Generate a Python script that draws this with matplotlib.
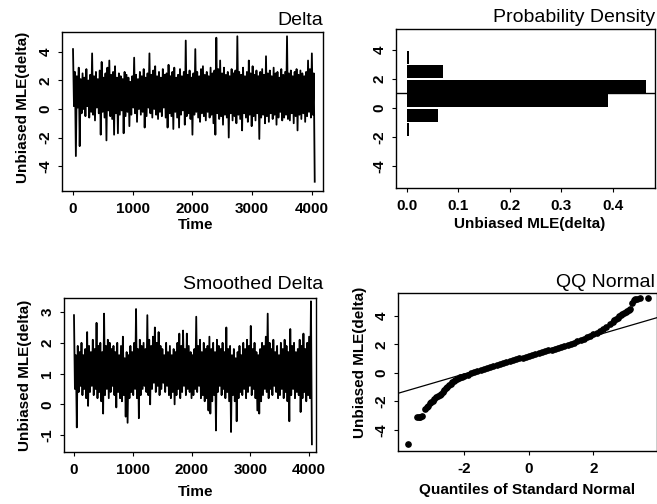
import matplotlib.pyplot as plt
import numpy as np

plt.rcParams['font.family'] = ['Liberation Sans', 'DejaVu Sans']
plt.rcParams['axes.unicode_minus'] = False

# raw delta: per-window high / low excursion
window = 32
delta_hi = [4.2, 2.6, 2.3, 2.9, 2.1, 2.5, 2.2, 2.8, 2.0, 2.4,
            3.9, 2.3, 2.6, 2.1, 2.7, 3.3, 2.2, 2.5, 2.9, 3.4,
            2.4, 2.6, 3.0, 2.2, 2.5, 2.3, 2.1, 2.6, 2.4, 2.2,
            1.9, 2.3, 3.6, 2.4, 2.1, 2.6, 2.3, 2.8, 2.2, 2.5,
            3.9, 2.4, 2.7, 3.0, 2.3, 2.6, 2.2, 2.8, 2.4, 2.5,
            3.1, 2.3, 2.6, 2.9, 2.2, 2.4, 2.8, 2.3, 2.6, 4.8,
            2.4, 2.7, 2.2, 2.5, 4.2, 2.6, 2.3, 2.8, 3.0, 2.4,
            2.6, 2.3, 2.9, 2.5, 2.7, 5.0, 2.8, 3.4, 2.5, 2.9,
            2.4, 2.6, 2.3, 2.8, 2.5, 2.7, 5.1, 2.6, 2.4, 2.9,
            2.3, 2.6, 3.4, 2.5, 3.0, 2.4, 2.7, 2.3, 2.6, 2.8,
            2.4, 3.7, 2.5, 2.7, 2.3, 2.9, 2.5, 2.6, 2.2, 2.8,
            2.4, 2.6, 5.1, 2.5, 2.7, 2.3, 2.6, 2.8, 2.4, 2.7,
            2.5, 2.3, 2.6, 3.4, 2.8, 3.9, 2.5]
delta_lo = [0.2, -3.3, 0.1, -2.6, -0.3, 0.0, -0.5, 0.2, -0.6, -0.2,
            -0.4, -0.8, 0.1, -0.3, -1.8, -0.2, -0.6, -2.2, -0.1, -0.5,
            -0.7, -1.8, -0.3, -1.7, -0.4, -0.1, -1.7, -0.5, -0.2, -1.2,
            -0.4, 0.1, -0.3, -0.9, 0.0, -0.4, -0.2, -1.3, -0.5, 0.1,
            -0.3, -0.6, 0.0, -0.4, -0.7, -0.2, -0.5, 0.1, -0.6, -1.3,
            -0.3, -0.5, -1.4, -0.2, -0.6, -1.3, -0.4, -0.1, -1.1, -0.5,
            -0.3, -0.7, -1.8, -0.4, -0.2, -0.6, -0.9, -0.3, -0.5, -0.8,
            -0.2, -0.6, -0.4, -1.0, -1.8, -0.3, -0.7, -0.5, -1.1, -0.4,
            -0.6, -2.0, -0.3, -0.8, -0.5, -1.0, -0.4, -0.7, -1.5, -0.3,
            -0.6, -0.9, -0.4, -1.2, -0.5, -0.8, -0.3, -2.1, -0.6, -0.4,
            -1.0, -0.5, -0.9, -0.3, -0.7, -0.4, -1.1, -0.6, -0.2, -0.8,
            -0.6, -0.4, -0.7, -0.8, -0.3, -1.0, -0.5, -1.5, -0.4, -0.7,
            -0.3, -0.9, -0.5, -0.2, -0.6, -0.4, -5.1]

# smoothed delta, same windows, bottom-left panel
smooth_hi = [2.9, 1.6, 1.9, 1.7, 2.0, 1.6, 1.8, 2.35, 1.9, 1.7,
             2.1, 1.8, 2.65, 1.9, 2.0, 1.7, 2.95, 1.9, 2.1, 2.0,
             1.8, 1.9, 1.7, 2.0, 1.6, 1.9, 2.2, 1.5, 1.7, 1.6,
             1.9, 1.7, 2.0, 3.1, 1.8, 2.1, 1.9, 2.0, 1.8, 2.9,
             2.1, 1.9, 2.2, 2.5, 2.0, 2.35, 1.9, 1.8, 1.6, 2.0,
             1.7, 1.9, 1.6, 1.8, 1.7, 2.0, 2.3, 1.9, 2.4, 1.8,
             2.3, 1.9, 1.7, 1.6, 1.8, 2.85, 1.9, 2.1, 1.7, 2.0,
             1.8, 1.9, 2.2, 1.8, 2.0, 1.7, 2.1, 1.9, 1.8, 2.0,
             1.7, 2.5, 1.8, 1.9, 1.6, 1.8, 1.5, 1.7, 1.9, 1.6,
             2.0, 1.8, 2.1, 1.9, 2.55, 1.8, 2.0, 1.7, 1.6, 1.8,
             2.0, 1.9, 2.2, 2.95, 2.0, 1.8, 2.1, 1.7, 1.9, 1.6,
             2.0, 1.8, 2.1, 1.9, 1.7, 2.45, 1.9, 2.0, 1.7, 1.8,
             2.1, 1.9, 2.3, 1.8, 2.0, 2.2, 3.35]
smooth_lo = [0.5, -0.75, 0.4, 0.6, 0.3, 0.5, 0.2, -0.05, 0.4, 0.6,
             0.3, 0.5, 0.2, 0.4, 0.1, -0.3, 0.3, 0.5, 0.2, 0.4,
             0.6, 0.3, -0.1, 0.4, 0.2, 0.1, 0.3, -0.4, -0.6, 0.2,
             0.4, 0.3, 0.5, 0.2, -0.45, 0.3, 0.5, 0.6, 0.4, 0.3,
             0.0, 0.5, 0.7, 0.4, 0.6, 0.3, 0.5, 0.7, 0.4, 0.6,
             0.3, 0.2, 0.4, 0.0, 0.3, 0.5, 0.2, 0.4, 0.6, 0.3,
             0.5, 0.4, 0.2, 0.3, 0.5, 0.4, 0.6, 0.2, 0.3, 0.1,
             0.2, -0.2, -0.3, 0.1, 0.3, -0.85, 0.4, 0.6, 0.3, 0.5,
             0.2, 0.4, 0.1, -0.9, 0.3, 0.1, -0.55, 0.2, 0.4, 0.3,
             0.5, 0.2, 0.4, 0.6, 0.3, 0.5, 0.2, -0.2, -0.3, 0.1,
             0.3, 0.5, 0.4, 0.2, 0.5, 0.3, 0.6, 0.4, 0.2, 0.3,
             0.5, 0.2, 0.4, 0.1, -0.55, 0.3, 0.5, 0.2, 0.4, 0.3,
             -0.25, 0.2, 0.4, 0.1, 0.3, 0.2, -1.3]

# histogram of delta (horizontal bars)
hist_edges = [-2, -1, 0, 1, 2, 3, 4]
hist_density = [0.004, 0.06, 0.39, 0.465, 0.07, 0.004]
delta_mean = 1.0

# QQ plot points
qq_theory = [-3.75, -3.47, -3.42, -3.37, -3.31, -3.22, -3.17, -3.13, -3.08, -3.03,
             -2.98, -2.93, -2.88, -2.82, -2.77, -2.72, -2.67, -2.62, -2.57, -2.53,
             -2.48, -2.43, -2.38, -2.33, -2.28, -2.23, -2.18, -2.13, -2.08,
             -2.0, -1.9, -1.8, -1.7, -1.6, -1.5, -1.4, -1.3, -1.2, -1.1,
             -1.0, -0.9, -0.8, -0.7, -0.6, -0.5, -0.4, -0.3, -0.2, -0.1,
             0.0, 0.1, 0.2, 0.3, 0.4, 0.5, 0.6, 0.7, 0.8, 0.9,
             1.0, 1.1, 1.2, 1.3, 1.4, 1.5, 1.6, 1.7, 1.8,
             1.9, 2.0, 2.1, 2.2, 2.3, 2.4, 2.5, 2.6, 2.65, 2.7,
             2.75, 2.8, 2.85, 2.9, 2.95, 3.0, 3.05, 3.1, 3.14, 3.19,
             3.25, 3.30, 3.36, 3.44, 3.69]
qq_sample = [-4.95, -3.10, -3.08, -3.07, -3.03, -2.50, -2.42, -2.35, -2.10, -2.02,
             -1.95, -1.85, -1.72, -1.60, -1.52, -1.45, -1.35, -1.22, -1.08, -1.00,
             -0.88, -0.75, -0.66, -0.58, -0.50, -0.44, -0.38, -0.32, -0.26,
             -0.20, -0.12, -0.04, 0.05, 0.13, 0.21, 0.29, 0.36, 0.43, 0.50,
             0.57, 0.64, 0.70, 0.76, 0.83, 0.89, 0.95, 1.01, 1.07, 1.13,
             1.19, 1.25, 1.31, 1.38, 1.44, 1.50, 1.57, 1.63, 1.70, 1.77,
             1.84, 1.91, 1.98, 2.05, 2.13, 2.21, 2.30, 2.40, 2.50,
             2.60, 2.71, 2.83, 2.96, 3.10, 3.25, 3.42, 3.58, 3.68, 3.78,
             3.88, 3.98, 4.08, 4.15, 4.22, 4.28, 4.35, 4.42, 4.50, 4.92,
             5.10, 5.18, 5.20, 5.22, 5.22]
qq_intercept = 1.25
qq_slope = 0.66


def series(hi, lo):
    n = len(hi)
    t = np.empty(2 * n)
    y = np.empty(2 * n)
    t[0::2] = np.arange(n) * window
    t[1::2] = np.arange(n) * window + window / 2
    y[0::2] = hi
    y[1::2] = lo
    return t, y


def style(ax, xticks, yticks, xlabels=None):
    ax.set_xticks(xticks)
    if xlabels is not None:
        ax.set_xticklabels(xlabels)
    ax.set_yticks(yticks)
    ax.tick_params(direction='out', length=3, width=0.8, labelsize=11)
    ax.tick_params(axis='x', pad=5)
    ax.tick_params(axis='y', pad=4, labelrotation=90)
    for lab in ax.get_yticklabels():
        lab.set_va('center')
    for lab in ax.get_xticklabels() + ax.get_yticklabels():
        lab.set_fontweight('bold')
    for s in ax.spines.values():
        s.set_linewidth(1.0)


lab_kw = dict(fontsize=11, fontweight='bold')
fig = plt.figure(figsize=(6.57, 5.04), dpi=100)

# Delta
ax1 = fig.add_axes([0.0944, 0.621, 0.397, 0.3155])
t, y = series(delta_hi, delta_lo)
ax1.plot(t, y, color='black', lw=1.3)
ax1.set_xlim(-184, 4184)
ax1.set_ylim(-5.75, 5.4)
style(ax1, [0, 1000, 2000, 3000, 4000], [-4, -2, 0, 2, 4])
ax1.set_xlabel('Time', **lab_kw)
ax1.set_ylabel('Unbiased MLE(delta)', **lab_kw)
ax1.xaxis.set_label_coords(0.513, -0.17)
ax1.yaxis.set_label_coords(-0.123, 0.528)
fig.text(0.4916, 0.950, 'Delta', ha='right', va='baseline', fontsize=14)

# Probability Density
ax2 = fig.add_axes([0.6027, 0.627, 0.3942, 0.3155])
centers = [(a + b) / 2 for a, b in zip(hist_edges[:-1], hist_edges[1:])]
ax2.barh(centers, hist_density, height=0.88, left=0, color='black')
ax2.axhline(delta_mean, color='black', lw=1.0)
ax2.set_xlim(-0.021, 0.482)
ax2.set_ylim(-5.52, 5.45)
style(ax2, [0.0, 0.1, 0.2, 0.3, 0.4], [-4, -2, 0, 2, 4],
      ['0.0', '0.1', '0.2', '0.3', '0.4'])
ax2.set_xlabel('Unbiased MLE(delta)', **lab_kw)
ax2.xaxis.set_label_coords(0.516, -0.185)
fig.text(0.997, 0.957, 'Probability Density', ha='right', va='baseline', fontsize=14)

# Smoothed Delta
ax3 = fig.add_axes([0.0974, 0.1032, 0.3836, 0.3056])
t, y = series(smooth_hi, smooth_lo)
ax3.plot(t, y, color='black', lw=1.3)
ax3.set_xlim(-170, 4118)
ax3.set_ylim(-1.55, 3.46)
style(ax3, [0, 1000, 2000, 3000, 4000], [-1, 0, 1, 2, 3])
ax3.set_xlabel('Time', **lab_kw)
ax3.set_ylabel('Unbiased MLE(delta)', **lab_kw)
ax3.xaxis.set_label_coords(0.523, -0.214)
ax3.yaxis.set_label_coords(-0.128, 0.5)
fig.text(0.4916, 0.426, 'Smoothed Delta', ha='right', va='baseline', fontsize=14)

# QQ Normal
ax4 = fig.add_axes([0.6058, 0.1052, 0.3942, 0.3135])
ax4.plot(qq_theory, qq_sample, 'o', color='black', ms=3.8, mec='black')
ax4.axline((0, qq_intercept), slope=qq_slope, color='black', lw=0.9)
ax4.set_xlim(-4.06, 3.97)
ax4.set_ylim(-5.47, 5.6)
style(ax4, [-2, 0, 2], [-4, -2, 0, 2, 4])
ax4.set_xlabel('Quantiles of Standard Normal', **lab_kw)
ax4.set_ylabel('Unbiased MLE(delta)', **lab_kw)
ax4.xaxis.set_label_coords(0.5, -0.203)
ax4.yaxis.set_label_coords(-0.121, 0.563)
fig.text(0.997, 0.431, 'QQ Normal', ha='right', va='baseline', fontsize=14)

fig.savefig('out.png', dpi=100)
